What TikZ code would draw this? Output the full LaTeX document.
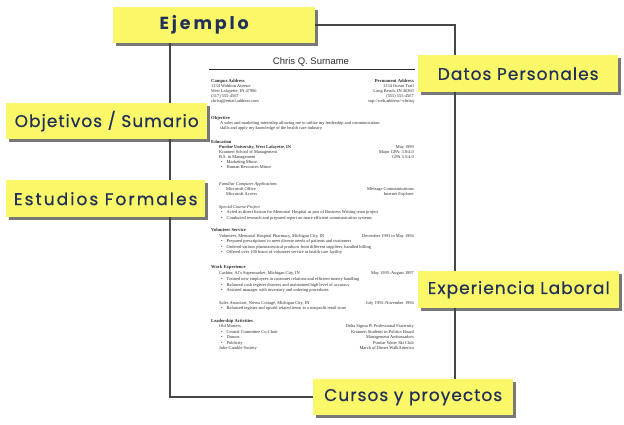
\documentclass[tikz,border=0pt]{standalone}
\usepackage{fontspec}
\setmainfont{Liberation Serif}
\newfontfamily\tagfont[LetterSpace=6,FakeBold=0.5]{Poppins}
\newfontfamily\tagboldfont[LetterSpace=16]{Poppins Bold}
\newfontfamily\titlefont{Liberation Sans}
\usetikzlibrary{shadows}
\definecolor{tagyellow}{RGB}{250,247,105}
\definecolor{tagnavy}{RGB}{32,48,88}
\definecolor{framegray}{RGB}{70,70,70}
\definecolor{resink}{RGB}{45,45,45}
\begin{document}
\begin{tikzpicture}[x=1pt,y=-1pt,
  tag/.style={anchor=north west, fill=tagyellow, minimum width=200pt, minimum height=36pt,
    inner sep=0pt, text=tagnavy, font=\tagfont\fontsize{17}{17}\selectfont,
    drop shadow={shadow xshift=2.5pt, shadow yshift=-3pt, fill=black!75, opacity=0.7}},
  rl/.style={anchor=base west, inner sep=0pt, text=resink, font=\fontsize{4.4}{5}\selectfont},
  rr/.style={anchor=base east, inner sep=0pt, text=resink, font=\fontsize{4.4}{5}\selectfont},
  rh/.style={rl, font=\fontsize{4.6}{5}\selectfont\bfseries},
  rhr/.style={rr, font=\fontsize{4.6}{5}\selectfont\bfseries},
]
\useasboundingbox[fill=white] (0,0) rectangle (624,424);
% page frame
\draw[framegray, line width=1.4pt] (170,25) rectangle (455,397);
% resume
\node[anchor=base, inner sep=0pt, text=resink, font=\titlefont\fontsize{9.5}{10}\selectfont] (title) at (311,64.5) {Chris Q. Surname};
\coordinate (ruleL) at (209,69.5);
\coordinate (ruleR) at (415,69.5);
\draw[resink, line width=1.6pt] (ruleL) -- (ruleR);
\node[rh] (c1) at (211,82) {Campus Address};
\node[rl] (c2) at (211,87) {1234 Waldron Avenue};
\node[rl] (c3) at (211,92) {West Lafayette, IN 47906};
\node[rl] (c4) at (211,97) {(317) 555-4567};
\node[rl] (c5) at (211,102) {chrisq@email.address.com};
\node[rhr] (p1) at (414,82) {Permanent Address};
\node[rr] (p2) at (414,87) {1234 Ocean Trail};
\node[rr] (p3) at (414,92) {Long Beach, IN 46360};
\node[rr] (p4) at (414,97) {(555) 555-4567};
\node[rr] (p5) at (414,102) {sup://web.address/\textasciitilde chrisq};
\node[rh] (o1) at (211,119) {Objective};
\node[rl] (o2) at (220,124.5) {A sales and marketing internship allowing me to utilize my leadership and communication};
\node[rl] (o3) at (220,129.5) {skills and apply my knowledge of the health care industry};
\node[rh] (e1) at (211,143) {Education};
\node[rl] (e2) at (219,148) {\bfseries Purdue University, West Lafayette, IN};
\node[rl] (e3) at (219,153) {Krannert School of Management};
\node[rl] (e4) at (219,158) {B.S. in Management};
\node[rl] (e5) at (221,163) {\textbullet\hspace{4pt}Marketing Minor};
\node[rl] (e6) at (221,168) {\textbullet\hspace{4pt}Human Resources Minor};
\node[rr] (e7) at (414,148) {May 1999};
\node[rr] (e8) at (414,153) {Major GPA: 3.8/4.0};
\node[rr] (e9) at (414,158) {GPA 3.5/4.0};
\node[rl] (f1) at (219,185) {\itshape Familiar Computer Applications};
\node[rl] (f2) at (226,190) {Microsoft Office};
\node[rl] (f3) at (226,195) {Microsoft Access};
\node[rr] (f4) at (414,190) {Message Communications};
\node[rr] (f5) at (414,195) {Internet Explorer};
\node[rl] (s1) at (219,208) {\itshape Special Course Project};
\node[rl] (s2) at (221,213.5) {\textbullet\hspace{4pt}Acted as direct liaison for Memorial Hospital as part of Business Writing team project};
\node[rl] (s3) at (221,219) {\textbullet\hspace{4pt}Conducted research and prepared report on more efficient communication systems};
\node[rh] (v1) at (211,231) {Volunteer Service};
\node[rl] (v2) at (219,237) {Volunteer, Memorial Hospital Pharmacy, Michigan City, IN};
\node[rr] (v3) at (414,237) {December 1993 to May 1994};
\node[rl] (v4) at (221,242.5) {\textbullet\hspace{4pt}Prepared prescriptions to meet diverse needs of patients and customers};
\node[rl] (v5) at (221,248) {\textbullet\hspace{4pt}Ordered various pharmaceutical products from different suppliers, handled billing};
\node[rl] (v6) at (221,253.5) {\textbullet\hspace{4pt}Offered over 100 hours of volunteer service at health care facility};
\node[rh] (w1) at (211,268) {Work Experience};
\node[rl] (w2) at (219,274.5) {Cashier, Al's Supermarket, Michigan City, IN};
\node[rr] (w3) at (414,274.5) {May 1995--August 1997};
\node[rl] (w4) at (221,280.5) {\textbullet\hspace{4pt}Trained new employees in customer relations and efficient money handling};
\node[rl] (w5) at (221,286) {\textbullet\hspace{4pt}Balanced cash register drawers and maintained high level of accuracy};
\node[rl] (w6) at (221,291.5) {\textbullet\hspace{4pt}Assisted manager with inventory and ordering procedures};
\node[rl] (w7) at (219,304) {Sales Associate, Novus Cottage, Michigan City, IN};
\node[rr] (w8) at (414,304) {July 1993--November 1994};
\node[rl] (w9) at (221,309.5) {\textbullet\hspace{4pt}Balanced register and upsold related items in a nonprofit retail store};
\node[rh] (l1) at (211,322) {Leadership Activities};
\node[rl] (l2) at (219,327.5) {Old Masters};
\node[rl] (l3) at (221,333) {\textbullet\hspace{4pt}Central Committee Co-Chair};
\node[rl] (l4) at (221,338.5) {\textbullet\hspace{4pt}Donors};
\node[rl] (l5) at (221,344) {\textbullet\hspace{4pt}Publicity};
\node[rl] (l6) at (219,349.5) {Julie Gamble Society};
\node[rr] (l7) at (414,327.5) {Delta Sigma Pi Professional Fraternity};
\node[rr] (l8) at (414,333) {Krannert Students in Politics Board};
\node[rr] (l9) at (414,338.5) {Management Ambassadors};
\node[rr] (l10) at (414,344) {Purdue Water Ski Club};
\node[rr] (l11) at (414,349.5) {March of Dimes WalkAmerica};
% tags
\node[tag, minimum width=202pt, font=\tagboldfont\fontsize{17.5}{17}\selectfont] (ejemplo) at (113,7) {Ejemplo\kern20pt};
\node[tag, minimum height=37pt] (datos) at (418,55) {Datos Personales};
\node[tag, minimum width=201pt] (objetivos) at (6,103) {Objetivos / Sumario};
\node[tag, minimum width=199pt, minimum height=37pt, font=\tagfont\fontsize{17}{17}\selectfont\addfontfeature{LetterSpace=12}] (estudios) at (6,180) {Estudios Formales};
\node[tag, minimum width=201pt, minimum height=37pt] (experiencia) at (418,271) {Experiencia Laboral};
\node[tag] (cursos) at (313,379) {Cursos y proyectos};
\end{tikzpicture}
\end{document}
